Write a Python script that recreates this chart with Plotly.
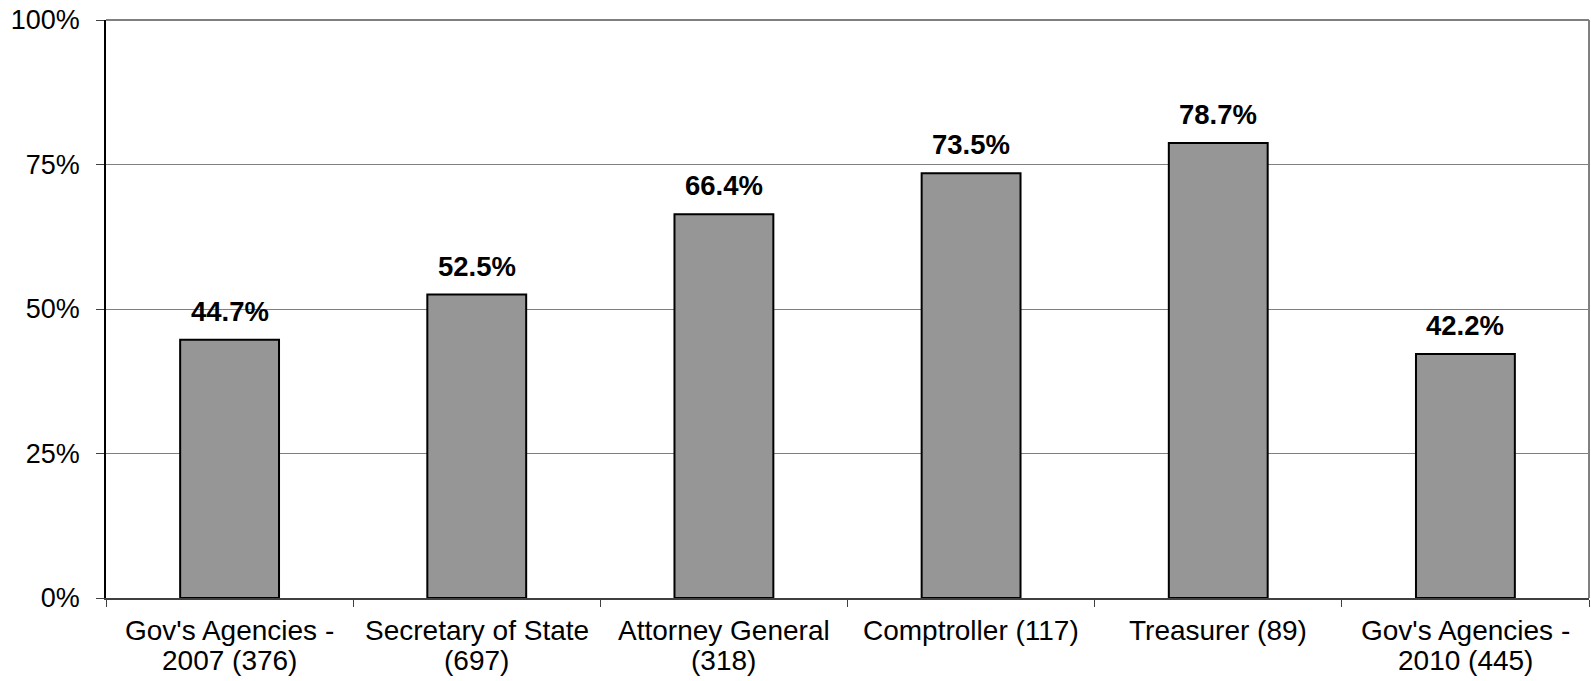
import plotly.graph_objects as go

categories = ["Gov's Agencies - 2007 (376)", "Secretary of State (697)", "Attorney General (318)",
              "Comptroller (117)", "Treasurer (89)", "Gov's Agencies - 2010 (445)"]
label_lines = [["Gov's Agencies -", "2007 (376)"], ["Secretary of State", "(697)"],
               ["Attorney General", "(318)"], ["Comptroller (117)"], ["Treasurer (89)"],
               ["Gov's Agencies -", "2010 (445)"]]
values = [44.7, 52.5, 66.4, 73.5, 78.7, 42.2]
y_ticks = [0, 25, 50, 75, 100]
y_tick_text = ["0%", "25%", "50%", "75%", "100%"]

FONT = "Liberation Sans, Arial, sans-serif"
FS = 27.5

fig = go.Figure()
fig.add_trace(go.Bar(
    x=categories, y=values, width=0.4,
    marker=dict(color="#969696", line=dict(color="black", width=2)),
    hoverinfo="skip",
))

for c, v in zip(categories, values):
    fig.add_annotation(x=c, y=v, text=f"<b>{v:.1f}%</b>", showarrow=False,
                       yanchor="bottom", yshift=11,
                       font=dict(family=FONT, size=FS, color="black"))

for c, lines in zip(categories, label_lines):
    for i, line in enumerate(lines):
        fig.add_annotation(x=c, y=0, text=line, showarrow=False, yanchor="top",
                           yshift=-15 - 30 * i, font=dict(family=FONT, size=28, color="black"))

# gray top and right frame
fig.add_shape(type="line", xref="paper", yref="paper", x0=1, x1=1, y0=0, y1=1,
              line=dict(color="#808080", width=2))
fig.add_shape(type="line", xref="paper", yref="paper", x0=0, x1=1, y0=1, y1=1,
              line=dict(color="#808080", width=2))

fig.update_layout(
    width=1591, height=681,
    margin=dict(l=106, r=2, t=20, b=83),
    paper_bgcolor="white", plot_bgcolor="white",
    showlegend=False, bargap=0.6,
    font=dict(family=FONT, size=FS, color="black"),
)
fig.update_xaxes(
    type="category", automargin=False, showticklabels=False,
    tickson="boundaries", ticks="outside", ticklen=7, tickcolor="#404040", tickwidth=1,
    showline=True, linecolor="#404040", linewidth=1.5, showgrid=False,
)
fig.update_yaxes(
    range=[0, 100], automargin=False, tickmode="array", tickvals=y_ticks, ticktext=y_tick_text,
    ticks="outside", ticklen=8, tickcolor="#404040", tickwidth=1,
    showline=True, linecolor="black", linewidth=1.5,
    showgrid=True, gridcolor="#808080", gridwidth=1, zeroline=False,
    ticklabelstandoff=11,
    tickfont=dict(family=FONT, size=27, color="black"),
)

fig.write_html("out.html", config={"displayModeBar": False},
               post_script="document.body.style.margin='0px';document.body.style.overflow='hidden';")
